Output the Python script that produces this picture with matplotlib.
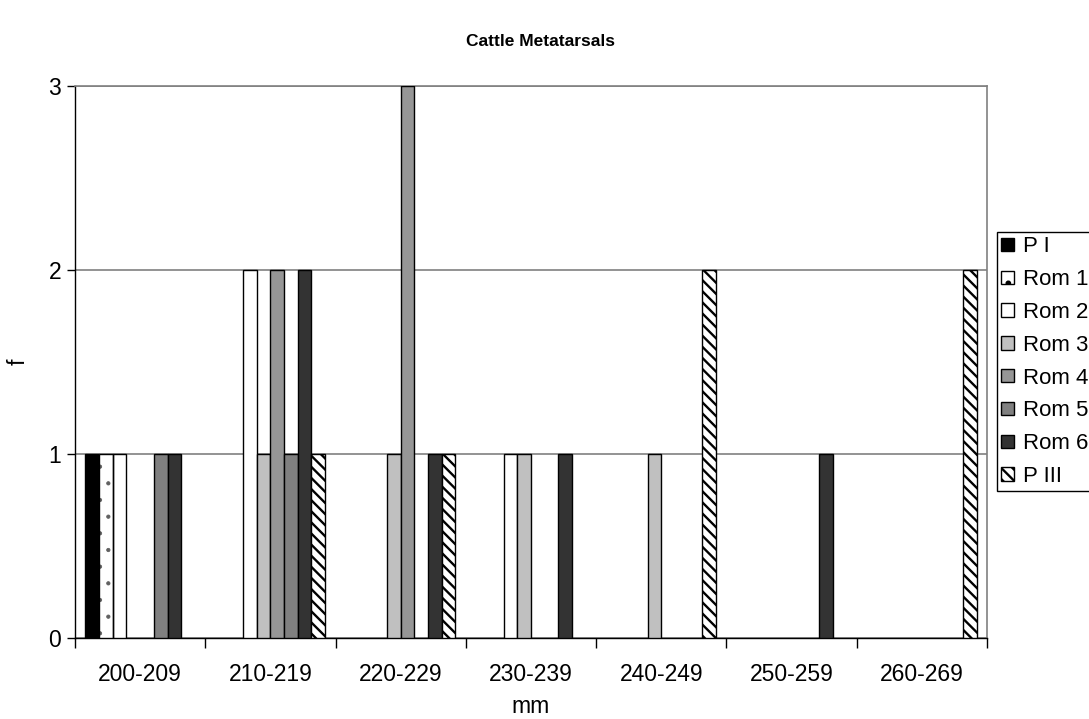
import numpy as np
import matplotlib
matplotlib.use("Agg")
from matplotlib import pyplot as plt

plt.rcParams['font.family'] = ['Liberation Sans', 'DejaVu Sans']

# data
categories = ["200-209", "210-219", "220-229", "230-239", "240-249", "250-259", "260-269"]
series = ["P I", "Rom 1", "Rom 2", "Rom 3", "Rom 4", "Rom 5", "Rom 6", "P III"]
p1 = [1, 0, 0, 0, 0, 0, 0]
rom1 = [1, 0, 0, 0, 0, 0, 0]
rom2 = [1, 2, 0, 1, 0, 0, 0]
rom3 = [0, 1, 1, 1, 1, 0, 0]
rom4 = [0, 2, 3, 0, 0, 0, 0]
rom5 = [1, 1, 0, 0, 0, 0, 0]
rom6 = [1, 2, 1, 1, 0, 1, 0]
p3 = [0, 1, 1, 0, 2, 0, 2]
values = [p1, rom1, rom2, rom3, rom4, rom5, rom6, p3]

# styles
facecolors = ["#000000", "#ffffff", "#ffffff", "#c0c0c0", "#969696", "#808080", "#333333", "#ffffff"]
hatches = [None, ".", None, None, None, None, None, "\\\\\\"]
hatch_lw = [1.0, 0.6, 1.0, 1.0, 1.0, 1.0, 1.0, 1.7]
hatch_col = ["black", "#606060", "black", "black", "black", "black", "black", "black"]

fig = plt.figure(figsize=(10.89, 7.19), dpi=100)
ax = fig.add_axes([0.0689, 0.1127, 0.8374, 0.7677])

x = np.arange(len(categories))
w = 0.105
for i, (name, vals) in enumerate(zip(series, values)):
    vals = np.array(vals)
    off = (i - 3.5) * w
    keep = vals > 0
    plt.rcParams['hatch.linewidth'] = hatch_lw[i]
    if hatches[i]:
        # hatch layer in its own colour, outline drawn on top
        ax.bar(x[keep] + off, vals[keep], width=w, color=facecolors[i],
               edgecolor=hatch_col[i], linewidth=0, hatch=hatches[i], zorder=3)
        ax.bar(x[keep] + off, vals[keep], width=w, fill=False, edgecolor="black",
               linewidth=1.0, zorder=4)
        ax.bar([np.nan], [np.nan], color=facecolors[i], edgecolor="black",
               linewidth=1.0, hatch=hatches[i], label=name)
    else:
        ax.bar(x[keep] + off, vals[keep], width=w, color=facecolors[i], edgecolor="black",
               linewidth=1.0, label=name, zorder=3)

ax.set_xlim(-0.5, len(categories) - 0.5)
ax.set_ylim(0, 3)
ax.set_yticks([0, 1, 2, 3])
ax.yaxis.grid(True, color="#808080", linewidth=1.2, zorder=0)
ax.set_axisbelow(True)

ax.set_xticks(x)
ax.set_xticklabels(categories, fontsize=16.5)
ax.set_xticks(np.arange(len(categories) + 1) - 0.5, minor=True)
ax.tick_params(axis="x", which="major", length=0, pad=18)
ax.tick_params(axis="x", which="minor", length=7, direction="out", width=1)
ax.tick_params(axis="y", labelsize=16.5, length=6, width=1, pad=4)

for s in ["top", "right"]:
    ax.spines[s].set_color("#808080")
    ax.spines[s].set_linewidth(1.2)
for s in ["left", "bottom"]:
    ax.spines[s].set_color("black")
    ax.spines[s].set_linewidth(1.0)

ax.set_xlabel("mm", fontsize=16.5, va="center")
ax.xaxis.set_label_coords(0.499, -0.124)
ax.set_ylabel("f", fontsize=16.5, va="center")
ax.yaxis.set_label_coords(-0.062, 0.5)
fig.suptitle("Cattle Metatarsals", fontsize=12.5, fontweight="bold", x=0.496, y=0.953)

leg = ax.legend(loc="upper left", bbox_to_anchor=(0.9155, 0.6773),
                bbox_transform=fig.transFigure, fontsize=16, frameon=True,
                fancybox=False, edgecolor="black", framealpha=1,
                handlelength=0.55, handleheight=0.55, handletextpad=0.4,
                labelspacing=0.53, borderpad=0.2, borderaxespad=0)
leg.get_frame().set_linewidth(1.0)

fig.savefig("out.png", dpi=100)
